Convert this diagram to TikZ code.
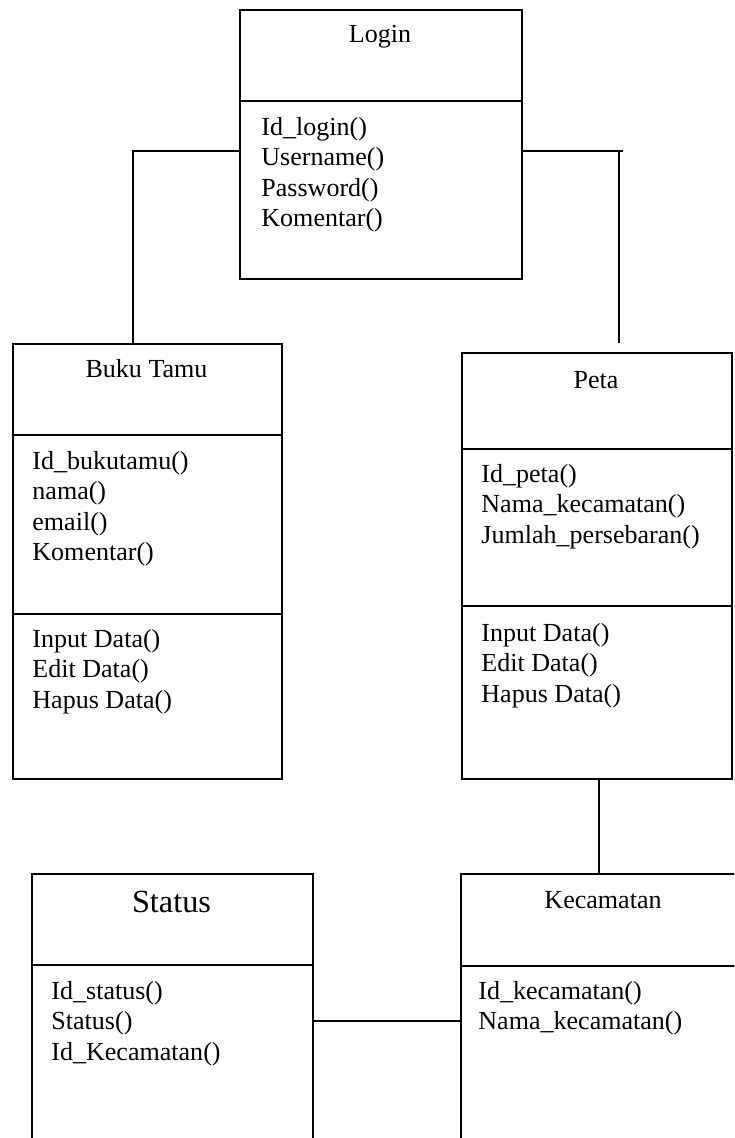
\documentclass[tikz,border=0pt]{standalone}
\usepackage{fontspec}
\setmainfont{Liberation Serif}
\begin{document}
\begin{tikzpicture}[x=0.48pt,y=-0.48pt,
  kotak/.style={draw,line width=1pt,anchor=north west,inner sep=0pt},
  judul/.style={anchor=base,inner sep=0pt,font=\fontsize{12.5}{14.6}\selectfont},
  isi/.style={anchor=base west,align=left,inner sep=0pt,font=\fontsize{12.5}{14.6}\selectfont},
  garis/.style={line width=1pt}]
  \clip (0,0) rectangle (734,1138);

  % Login
  \node[kotak,minimum width=282*0.48pt,minimum height=91*0.48pt] (login) at (239,9) {};
  \node[kotak,minimum width=282*0.48pt,minimum height=178*0.48pt] (loginAtr) at (239,100) {};
  \node[judul] (loginJudul) at (380,43) {Login};
  \node[isi] (loginTeks) at (261,226.5) {Id\_login()\\Username()\\Password()\\Komentar()};

  % Buku Tamu
  \node[kotak,minimum width=269*0.48pt,minimum height=91*0.48pt] (buku) at (12,343) {};
  \node[kotak,minimum width=269*0.48pt,minimum height=179*0.48pt] (bukuAtr) at (12,434) {};
  \node[kotak,minimum width=269*0.48pt,minimum height=165*0.48pt] (bukuOp) at (12,613) {};
  \node[judul] (bukuJudul) at (146.5,378) {Buku Tamu};
  \node[isi] (bukuTeks) at (32,560.5) {Id\_bukutamu()\\nama()\\email()\\Komentar()};
  \node[isi] (bukuOpTeks) at (32,708) {Input Data()\\Edit Data()\\Hapus Data()};

  % Peta
  \node[kotak,minimum width=270*0.48pt,minimum height=96*0.48pt] (peta) at (461,352) {};
  \node[kotak,minimum width=270*0.48pt,minimum height=157*0.48pt] (petaAtr) at (461,448) {};
  \node[kotak,minimum width=270*0.48pt,minimum height=173*0.48pt] (petaOp) at (461,605) {};
  \node[judul] (petaJudul) at (596,389) {Peta};
  \node[isi] (petaTeks) at (481,543) {Id\_peta()\\Nama\_kecamatan()\\Jumlah\_persebaran()};
  \node[isi] (petaOpTeks) at (481,702) {Input Data()\\Edit Data()\\Hapus Data()};

  % Status
  \node[kotak,minimum width=281*0.48pt,minimum height=91*0.48pt] (status) at (31,873) {};
  \node[kotak,minimum width=281*0.48pt,minimum height=200*0.48pt] (statusAtr) at (31,964) {};
  \node[judul,font=\fontsize{15.5}{18}\selectfont] (statusJudul) at (171.5,912) {Status};
  \node[isi] (statusTeks) at (51,1060) {Id\_status()\\Status()\\Id\_Kecamatan()};

  % Kecamatan
  \node[kotak,minimum width=286*0.48pt,minimum height=92*0.48pt] (kec) at (460,873) {};
  \node[kotak,minimum width=286*0.48pt,minimum height=200*0.48pt] (kecAtr) at (460,965) {};
  \node[judul] (kecJudul) at (603,908) {Kecamatan};
  \node[isi] (kecTeks) at (478,1029.5) {Id\_kecamatan()\\Nama\_kecamatan()};

  % garis penghubung
  \coordinate (tekukKiri) at (133,151);
  \coordinate (tekukKanan) at (619,151);
  \coordinate (ujungKanan) at (623,151);
  \coordinate (ujungBawah) at (619,343);
  \coordinate (jalurPeta) at (599,0);
  \coordinate (jalurStatus) at (0,1021);
  \draw[garis] (loginAtr.west |- tekukKiri) -- (tekukKiri) -- (buku.north -| tekukKiri);
  \draw[garis] (loginAtr.east |- tekukKanan) -- (ujungKanan);
  \draw[garis] (tekukKanan) -- (ujungBawah);
  \draw[garis] (petaOp.south -| jalurPeta) -- (kec.north -| jalurPeta);
  \draw[garis] (statusAtr.east |- jalurStatus) -- (kecAtr.west |- jalurStatus);
\end{tikzpicture}
\end{document}
